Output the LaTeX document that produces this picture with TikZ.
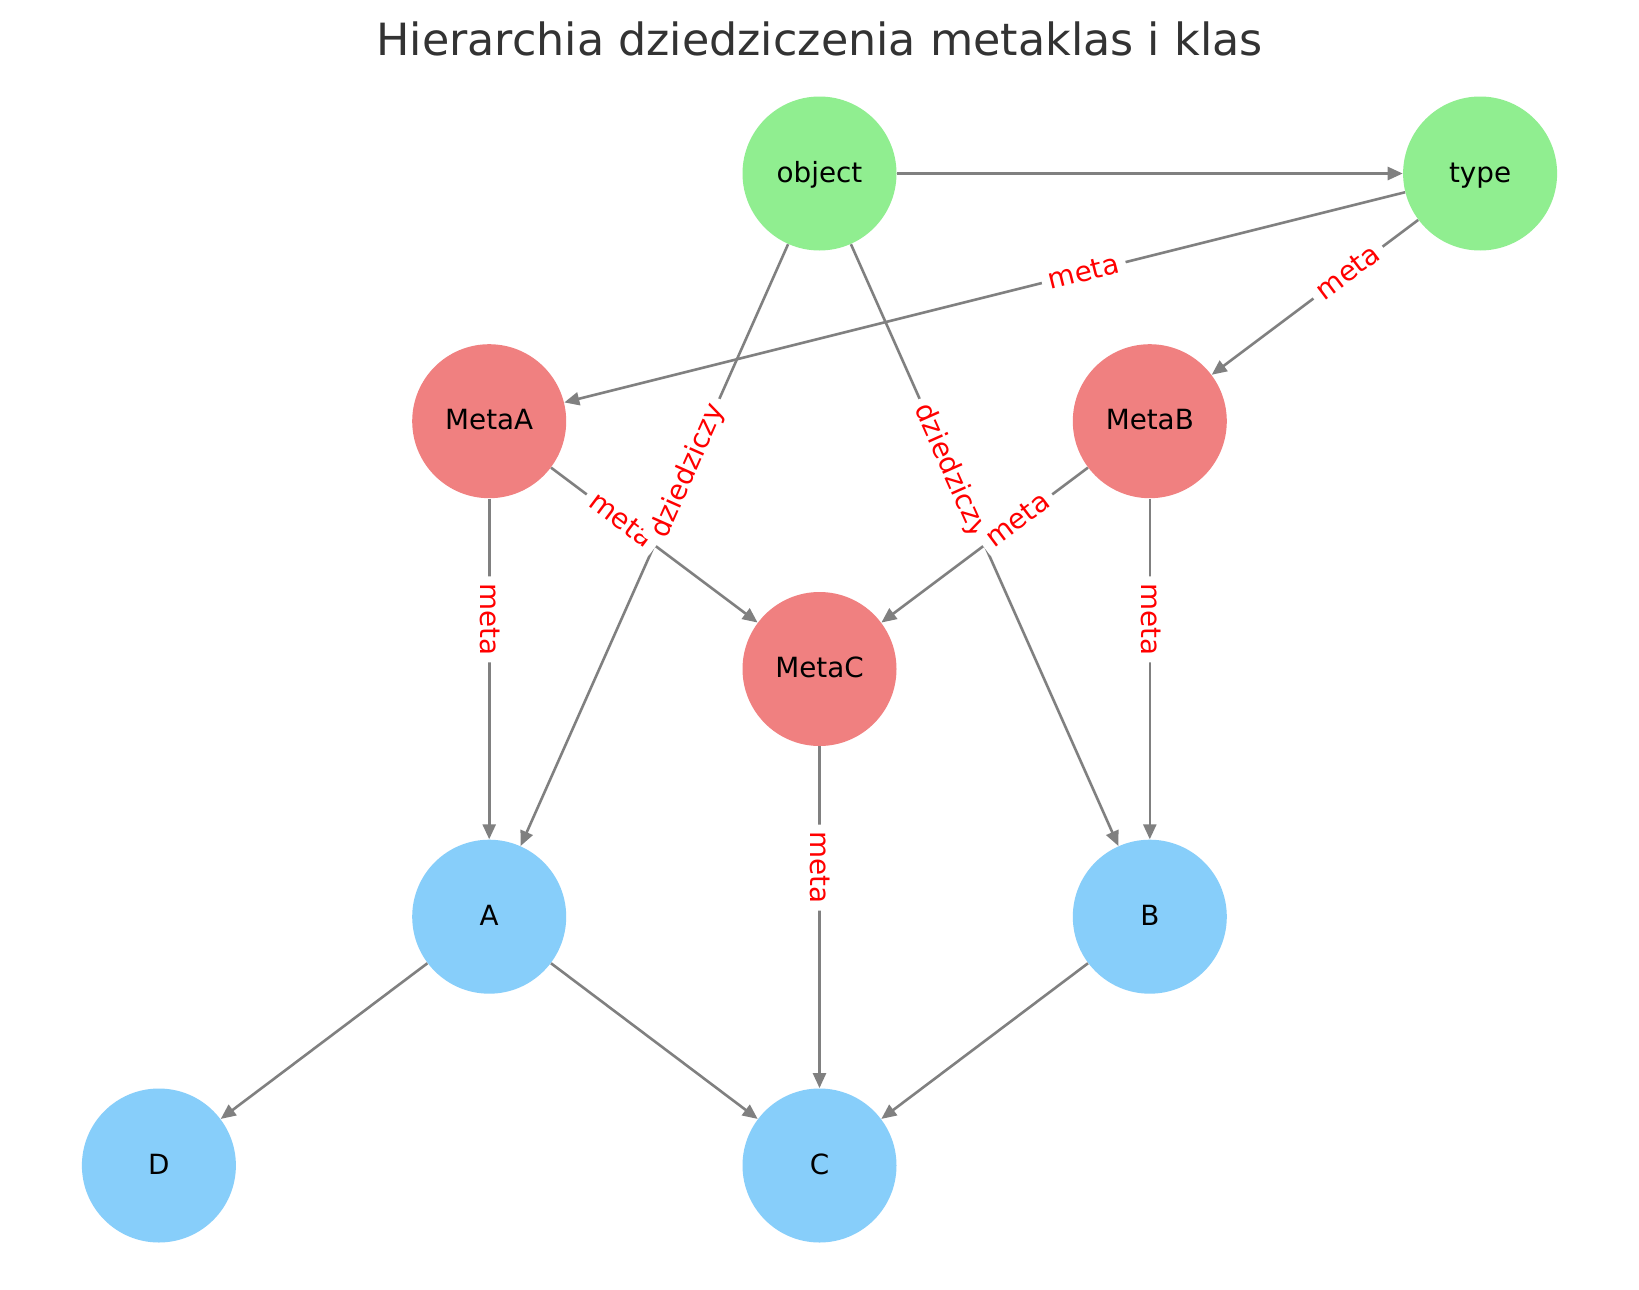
\documentclass[tikz,border=0pt]{standalone}
\usepackage{fontspec}
\setmainfont{DejaVu Sans}
\usetikzlibrary{arrows.meta,calc}
\definecolor{ngreen}{HTML}{90EE90}
\definecolor{nred}{HTML}{F08080}
\definecolor{nblue}{HTML}{87CEFA}
\definecolor{egray}{HTML}{808080}
\definecolor{titlegray}{HTML}{333333}
\tikzset{
  vertex/.style={circle, draw=none, minimum size=77pt, inner sep=0pt,
    font=\fontsize{13.9}{16}\selectfont, text=black, text height=12pt, text depth=3.3pt},
  gnode/.style={vertex, fill=ngreen},
  rnode/.style={vertex, fill=nred},
  bnode/.style={vertex, fill=nblue},
  edge/.style={draw=egray, line width=1.3pt, -{Triangle[length=7.5pt,width=6.5pt]}},
  elabel/.style={font=\fontsize{13.9}{16}\selectfont, text=red, fill=white,
    rounded corners=3pt, inner xsep=3.5pt, inner ysep=0.5pt, text height=12pt, text depth=3.3pt}
}
\begin{document}
\begin{tikzpicture}[x=0.5pt,y=-0.5pt]
\useasboundingbox[fill=white] (0,0) rectangle (1639,1290);
\node[font=\fontsize{22.2}{26}\selectfont, text=titlegray, anchor=base] (title) at (819.5,55.5) {Hierarchia dziedziczenia metaklas i klas};

\node[gnode] (object) at (819.5,173.5) {object};
\node[gnode] (type) at (1480.1,173.5) {type};
\node[rnode] (MetaA) at (489.2,421.2) {MetaA};
\node[rnode] (MetaB) at (1149.8,421.2) {MetaB};
\node[rnode] (MetaC) at (819.5,669) {MetaC};
\node[bnode] (A) at (489.2,916.7) {A};
\node[bnode] (B) at (1149.8,916.7) {B};
\node[bnode] (C) at (819.5,1165.5) {C};
\node[bnode] (D) at (158.9,1165.5) {D};

\draw[edge] (object) -- (type);
\draw[edge] (type) -- (MetaA);
\draw[edge] (type) -- (MetaB);
\draw[edge] (object) -- (A);
\draw[edge] (object) -- (B);
\draw[edge] (MetaA) -- (MetaC);
\draw[edge] (MetaB) -- (MetaC);
\draw[edge] (MetaA) -- (A);
\draw[edge] (MetaB) -- (B);
\draw[edge] (MetaC) -- (C);
\draw[edge] (A) -- (D);
\draw[edge] (A) -- (C);
\draw[edge] (B) -- (C);

\node[elabel, rotate=14.04] (l1) at ($(type)!0.4!(MetaA)$) {meta};
\node[elabel, rotate=36.87] (l2) at ($(type)!0.4!(MetaB)$) {meta};
\node[elabel, rotate=-90] (l5) at ($(MetaA)!0.4!(A)$) {meta};
\node[elabel, rotate=-90] (l6) at ($(MetaB)!0.4!(B)$) {meta};
\node[elabel, rotate=-90] (l7) at ($(MetaC)!0.4!(C)$) {meta};
\node[elabel, rotate=-36.87] (l3) at ($(MetaA)!0.4!(MetaC)$) {meta};
\node[elabel, rotate=66.04] (l8) at ($(object)!0.4!(A)$) {dziedziczy};
\node[elabel, rotate=-66.04] (l9) at ($(object)!0.4!(B)$) {dziedziczy};
\node[elabel, rotate=36.87] (l4) at ($(MetaB)!0.4!(MetaC)$) {meta};
\end{tikzpicture}
\end{document}
